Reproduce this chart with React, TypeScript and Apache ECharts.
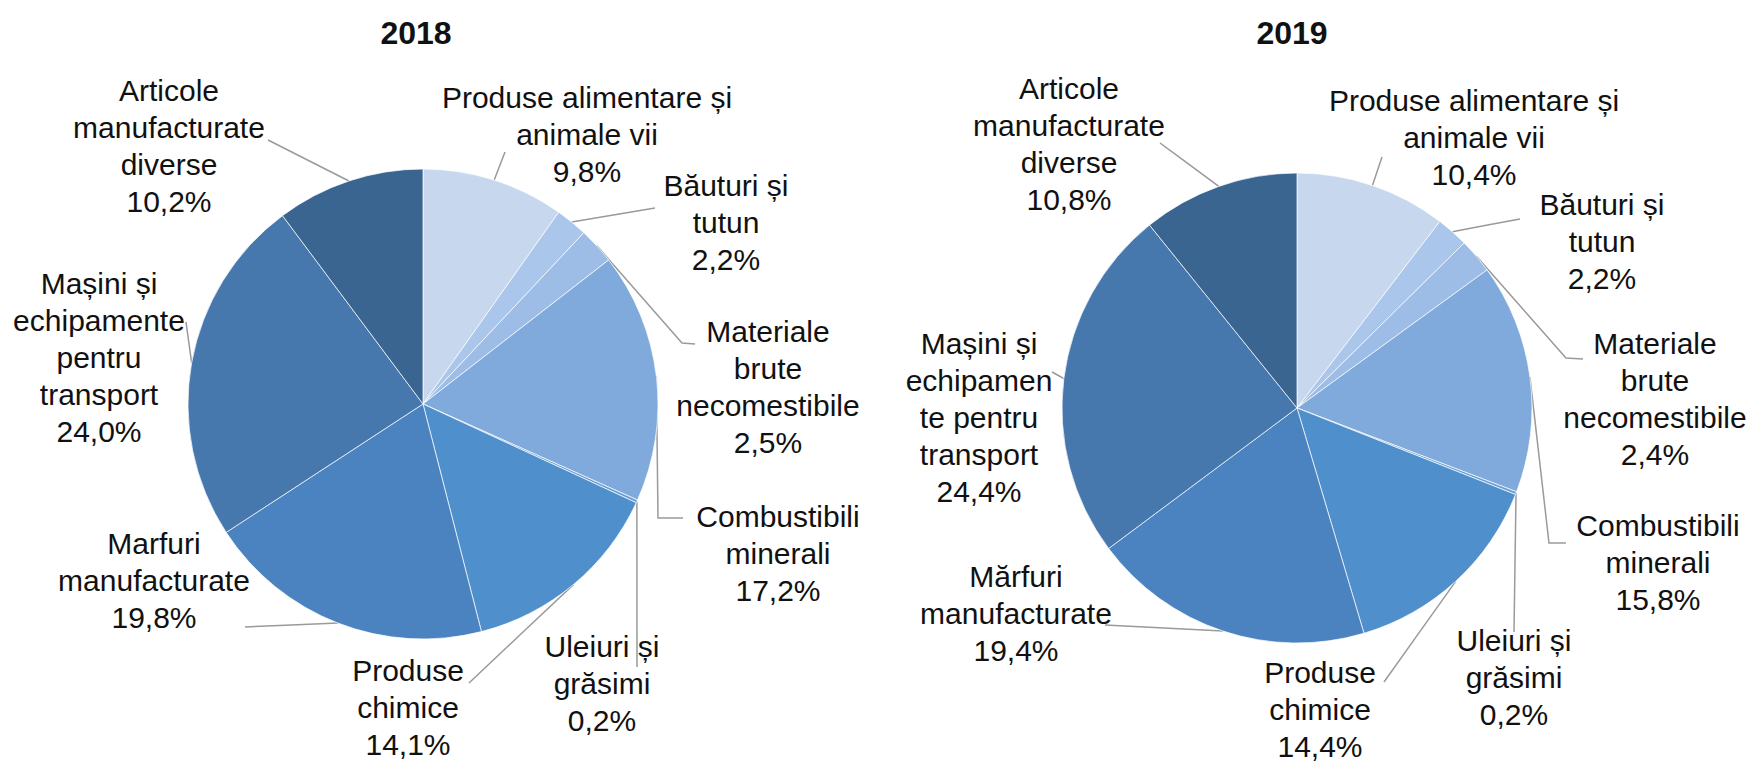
import React, { useEffect, useRef } from "react";
import * as echarts from "echarts";

const years = ["2018", "2019"];

const categories2018 = [
  "Produse alimentare și\nanimale vii",
  "Băuturi și\ntutun",
  "Materiale\nbrute\nnecomestibile",
  "Combustibili\nminerali",
  "Uleiuri și\ngrăsimi",
  "Produse\nchimice",
  "Marfuri\nmanufacturate",
  "Mașini și\nechipamente\npentru\ntransport",
  "Articole\nmanufacturate\ndiverse",
];

const categories2019 = [
  "Produse alimentare și\nanimale vii",
  "Băuturi și\ntutun",
  "Materiale\nbrute\nnecomestibile",
  "Combustibili\nminerali",
  "Uleiuri și\ngrăsimi",
  "Produse\nchimice",
  "Mărfuri\nmanufacturate",
  "Mașini și\nechipamen\nte pentru\ntransport",
  "Articole\nmanufacturate\ndiverse",
];

const values2018 = [9.8, 2.2, 2.5, 17.2, 0.2, 14.1, 19.8, 24.0, 10.2];
const values2019 = [10.4, 2.2, 2.4, 15.8, 0.2, 14.4, 19.4, 24.4, 10.8];

const sliceColors = [
  "#c7d8ee",
  "#aac6ea",
  "#9dbde6",
  "#7faadb",
  "#6a9fd6",
  "#4f8fcb",
  "#4a83bf",
  "#4677ad",
  "#3a6591",
];

// layout only: pie geometry and label block centres (px)
const pieCenters = [
  [423, 404],
  [1297, 408],
];
const pieRadius = 235;

const labelPos2018 = [
  [587, 134], [726, 222], [768, 387], [778, 553], [602, 683],
  [408, 707], [154, 580], [99, 357], [169, 146],
];
const labelPos2019 = [
  [1474, 137], [1602, 241], [1655, 399], [1658, 562], [1514, 677],
  [1320, 709], [1016, 613], [979, 417], [1069, 144],
];

// layout only: leader line elbow (or null) and end point near each label
const leader2018: (number[] | null)[][] = [
  [null, [505, 152]],
  [null, [655, 208]],
  [[682, 343], [695, 344]],
  [[658, 518], [683, 518]],
  [null, [637, 667]],
  [null, [469, 683]],
  [null, [245, 627]],
  [null, [186, 322]],
  [null, [268, 140]],
];
const leader2019: (number[] | null)[][] = [
  [null, [1382, 157]],
  [null, [1520, 219]],
  [[1566, 358], [1583, 359]],
  [[1549, 543], [1566, 543]],
  [null, [1514, 632]],
  [null, [1384, 682]],
  [null, [1105, 625]],
  [null, [1052, 372]],
  [null, [1160, 143]],
];

const FONT = "'Liberation Sans', Arial, sans-serif";

export default function App() {
  const ref = useRef<HTMLDivElement>(null);

  useEffect(() => {
    document.body.style.margin = "0";
    if (!ref.current) return;
    const chart = echarts.init(ref.current, undefined, { renderer: "svg" });

    const fmt = (p: any) =>
      `${p.name}\n${Number(p.value).toFixed(1).replace(".", ",")}%`;

    const makeSeries = (
      cats: string[],
      vals: number[],
      center: number[],
      pos: number[][],
      leaders: (number[] | null)[][]
    ) => {
      const total = vals.reduce((a, b) => a + b, 0);
      const midAngles: number[] = [];
      let cum = 0;
      vals.forEach((v) => {
        midAngles.push(((cum + v / 2) / total) * Math.PI * 2);
        cum += v;
      });
      return {
        type: "pie",
        center,
        radius: pieRadius,
        startAngle: 90,
        clockwise: true,
        avoidLabelOverlap: false,
        data: cats.map((c, i) => ({ name: c, value: vals[i], itemStyle: { color: sliceColors[i] } })),
        itemStyle: { borderColor: "rgba(255,255,255,0.7)", borderWidth: 1 },
        label: {
          show: true,
          position: "outside",
          formatter: fmt,
          fontFamily: FONT,
          fontSize: 30,
          lineHeight: 37,
          color: "#111",
          align: "center",
        },
        labelLine: {
          show: true,
          length: 15,
          length2: 10,
          lineStyle: { color: "#9a9a9a", width: 1.5 },
        },
        labelLayout: (params: any) => {
          const i = params.dataIndex;
          const p = pos[i];
          const a = midAngles[i];
          const start = [center[0] + pieRadius * Math.sin(a), center[1] - pieRadius * Math.cos(a)];
          const [elbow, end] = leaders[i];
          const e = end as number[];
          const mid = elbow ? elbow : [(start[0] + e[0]) / 2, (start[1] + e[1]) / 2];
          return {
            x: p[0],
            y: p[1],
            align: "center",
            verticalAlign: "middle",
            labelLinePoints: [start, mid, e],
          };
        },
        emphasis: { disabled: true },
      };
    };

    chart.setOption({
      animation: false,
      backgroundColor: "#ffffff",
      title: [
        {
          text: years[0],
          left: 411,
          top: 12,
          textAlign: "center",
          textStyle: { fontFamily: FONT, fontWeight: "bold", fontSize: 32, color: "#111" },
        },
        {
          text: years[1],
          left: 1287,
          top: 12,
          textAlign: "center",
          textStyle: { fontFamily: FONT, fontWeight: "bold", fontSize: 32, color: "#111" },
        },
      ],
      series: [
        makeSeries(categories2018, values2018, pieCenters[0], labelPos2018, leader2018),
        makeSeries(categories2019, values2019, pieCenters[1], labelPos2019, leader2019),
      ],
    });

    return () => chart.dispose();
  }, []);

  return <div ref={ref} style={{ width: 1752, height: 763 }} />;
}
